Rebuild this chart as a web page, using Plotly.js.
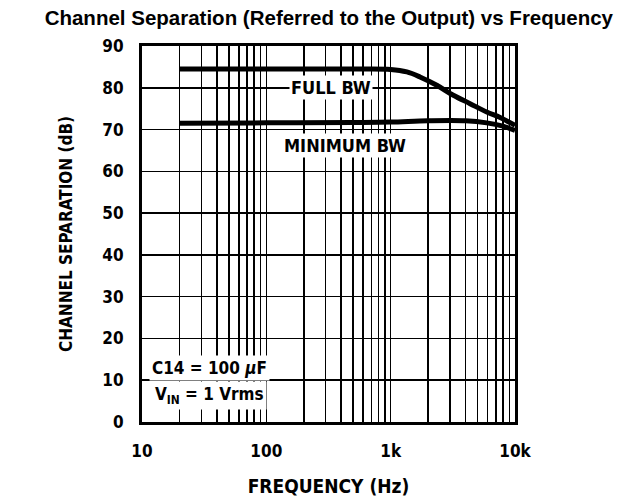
<!DOCTYPE html>
<html>
<head>
<meta charset="utf-8">
<script src="https://cdn.plot.ly/plotly-3.0.1.min.js"></script>
<style>html,body{margin:0;padding:0;background:#fff;}#chart{width:624px;height:502px;}</style>
</head>
<body>
<div id="chart"></div>
<script>
// Data
const fullFreq = [20, 100, 500, 1000, 1350, 1720, 2350, 3190, 4350, 5930, 7590, 10000];
const fullSep  = [84.5, 84.5, 84.5, 84.4, 83.8, 82.6, 80.6, 78.2, 76.2, 74.2, 72.9, 71.0];
const minFreq = [20, 100, 500, 1000, 2000, 4000, 5930, 8000, 10000];
const minSep  = [71.5, 71.6, 71.7, 71.8, 72.1, 72.1, 71.6, 70.8, 69.8];
const xMajor = [10, 100, 1000, 10000];
const xMajorLabels = ["10", "100", "1k", "10k"];
const xMinor = [20,30,40,50,60,70,80,90,200,300,400,500,600,700,800,900,2000,3000,4000,5000,6000,7000,8000,9000];
const yTicks = [0,10,20,30,40,50,60,70,80,90];

const cond = '"Liberation Sans Narrow", "DejaVu Sans Condensed", Arial, sans-serif';

const traces = [
  {x: fullFreq, y: fullSep, mode: 'lines', line: {color: '#000', width: 5, shape: 'spline'}, name: 'FULL BW', hoverinfo: 'skip'},
  {x: minFreq, y: minSep, mode: 'lines', line: {color: '#000', width: 5, shape: 'spline'}, name: 'MINIMUM BW', hoverinfo: 'skip'}
];

const layout = {
  width: 624, height: 502,
  margin: {l: 142, r: 109, t: 46, b: 80},
  paper_bgcolor: '#fff', plot_bgcolor: '#fff',
  showlegend: false,
  title: {text: '<b>Channel Separation (Referred to the Output) vs Frequency</b>',
          font: {family: '"Liberation Sans", Arial, sans-serif', size: 20.5, color: '#000'},
          x: 0.527, xanchor: 'center', y: 0.964, yanchor: 'middle'},
  xaxis: {
    type: 'log', range: [1, 4],
    tickmode: 'array', tickvals: xMajor,
    ticktext: xMajorLabels.map(t => '<b>' + t + '</b>'),
    showgrid: true, gridcolor: '#000', gridwidth: 1.6,
    minor: {tickmode: 'array', tickvals: xMinor, showgrid: true, gridcolor: '#000', gridwidth: 1.6, ticks: ''},
    ticks: '', ticklabelstandoff: 12,
    showline: true, linecolor: '#000', linewidth: 3, mirror: true,
    zeroline: false,
    tickfont: {family: cond, size: 17, color: '#000'},
    title: {text: '<b>FREQUENCY (Hz)</b>', standoff: 20,
            font: {family: cond, size: 19, color: '#000'}}
  },
  yaxis: {
    range: [0, 90], tickmode: 'array', tickvals: yTicks,
    ticktext: yTicks.map(v => '<b>' + v + '</b>'),
    showgrid: true, gridcolor: '#000', gridwidth: 1.6,
    ticks: '', ticklabelstandoff: 12,
    showline: true, linecolor: '#000', linewidth: 3, mirror: true,
    zeroline: false,
    tickfont: {family: cond, size: 17, color: '#000'},
    title: {text: '<b>CHANNEL SEPARATION (dB)</b>', standoff: 26,
            font: {family: cond, size: 17, color: '#000'}}
  },
  annotations: [
    {x: Math.log10(331), y: 80, xref: 'x', yref: 'y', text: '<b>FULL BW</b>', showarrow: false,
     bgcolor: '#fff', font: {family: cond, size: 18, color: '#000'}, borderpad: 1},
    {x: Math.log10(430), y: 66.3, xref: 'x', yref: 'y', text: '<b>MINIMUM BW</b>', showarrow: false,
     bgcolor: '#fff', font: {family: cond, size: 18, color: '#000'}, borderpad: 1},
    {x: Math.log10(35), y: 12.9, xref: 'x', yref: 'y', text: '<b>C14 = 100 <i>μ</i>F</b>', showarrow: false,
     bgcolor: '#fff', font: {family: cond, size: 17, color: '#000'}, borderpad: 2},
    {x: Math.log10(35), y: 6.3, xref: 'x', yref: 'y', text: '<b>V<sub>IN</sub> = 1 Vrms</b>', showarrow: false,
     bgcolor: '#fff', font: {family: cond, size: 17, color: '#000'}, borderpad: 2}
  ]
};

Plotly.newPlot('chart', traces, layout, {displayModeBar: false, staticPlot: true});
</script>
</body>
</html>
